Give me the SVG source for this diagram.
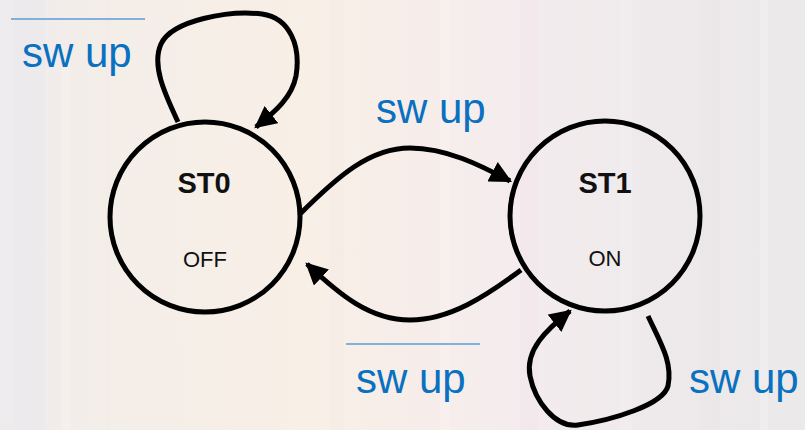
<svg xmlns="http://www.w3.org/2000/svg" width="805" height="430" viewBox="0 0 805 430">
  <defs>
    <linearGradient id="bg" x1="0" y1="0" x2="1" y2="0">
      <stop offset="0" stop-color="#eeebee"/>
      <stop offset="0.12" stop-color="#f4eee9"/>
      <stop offset="0.4" stop-color="#f8efe6"/>
      <stop offset="0.62" stop-color="#f5ecee"/>
      <stop offset="0.8" stop-color="#eeeaeb"/>
      <stop offset="1" stop-color="#ece9ea"/>
    </linearGradient>
    <marker id="arrow" viewBox="0 0 10 10" refX="9" refY="5" markerWidth="4.4" markerHeight="4.4" markerUnits="strokeWidth" orient="auto">
      <path d="M0,0 L10,5 L0,10 Z" fill="#000"/>
    </marker>
    <style>
      .state { fill: none; stroke: #000; stroke-width: 5; }
      .edge { fill: none; stroke: #000; stroke-width: 5; marker-end: url(#arrow); }
      .name { font-family: "Liberation Sans", Arial, sans-serif; font-weight: bold; font-size: 29px; fill: #111; text-anchor: middle; }
      .out { font-family: "Liberation Sans", Arial, sans-serif; font-size: 22px; fill: #111; text-anchor: middle; }
      .cond { font-family: "Liberation Sans", Arial, sans-serif; font-size: 42px; fill: #0a70c0; }
      .bar { stroke: #5b9bd5; stroke-width: 1.6; }
      .stripe { opacity: 0.18; }
    </style>
  </defs>

  <!-- soft backdrop -->
  <rect x="0" y="0" width="805" height="430" fill="url(#bg)"/>
  <g class="stripe">
    <rect x="15" y="0" width="30" height="430" fill="#e4e4ee"/>
    <rect x="62" y="60" width="8" height="370" fill="#ffffff"/>
    <rect x="105" y="0" width="6" height="430" fill="#f0e4e8"/>
    <rect x="175" y="40" width="10" height="300" fill="#fbf3ea"/>
    <rect x="330" y="0" width="14" height="430" fill="#f5e6e8"/>
    <rect x="440" y="0" width="10" height="430" fill="#ffffff"/>
    <rect x="520" y="0" width="18" height="430" fill="#f2e0ea"/>
    <rect x="620" y="0" width="12" height="430" fill="#ffffff"/>
    <rect x="700" y="0" width="20" height="430" fill="#e5e3e6"/>
    <rect x="760" y="0" width="8" height="430" fill="#ffffff"/>
  </g>

  <!-- transition arcs -->
  <g id="connectors">
    <path id="st0-loop" class="edge" d="M178,122 C166,96 151,66 161,44 C172,20 230,10 262,14 C290,18 301,46 296,76 C292,97 276,111 256,127"/>
    <path id="st0-to-st1" class="edge" d="M300,214 C338,176 370,148 410,148 C446,148 480,165 510,181"/>
    <path id="st1-to-st0" class="edge" d="M521,270 C486,296 450,320 410,320 C370,320 340,295 307,264"/>
    <path id="st1-loop" class="edge" d="M648,316 C660,342 673,362 668,386 C663,405 612,420 578,425 C555,428 535,401 530,376 C525,350 546,330 570,311"/>
  </g>

  <!-- states -->
  <g id="ST0">
    <circle class="state" cx="205" cy="217" r="95"/>
    <text class="name" x="204" y="193">ST0</text>
    <text class="out" x="205" y="267">OFF</text>
  </g>
  <g id="ST1">
    <circle class="state" cx="605" cy="216" r="95"/>
    <text class="name" x="605" y="193">ST1</text>
    <text class="out" x="605" y="266">ON</text>
  </g>

  <!-- transition conditions -->
  <g id="labels">
    <line class="bar" x1="11" y1="19" x2="145" y2="19"/>
    <text class="cond" x="22" y="67">sw up</text>
    <text class="cond" x="376" y="123">sw up</text>
    <line class="bar" x1="346" y1="344" x2="480" y2="344"/>
    <text class="cond" x="356" y="393">sw up</text>
    <text class="cond" x="689" y="393">sw up</text>
  </g>
</svg>
